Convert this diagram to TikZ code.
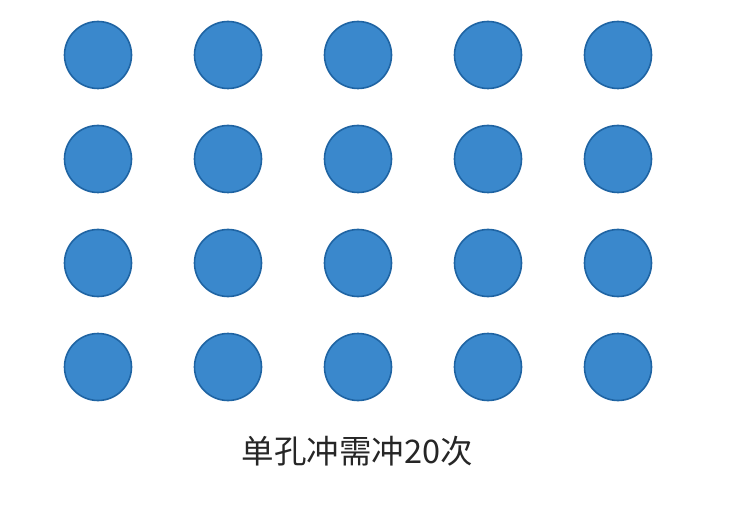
\documentclass[tikz,border=0pt]{standalone}
\usepackage{fontspec}
\newfontfamily\cjk{Noto Sans CJK SC}
\definecolor{dotfill}{HTML}{3A88CC}
\definecolor{dotedge}{HTML}{1F64A3}
\begin{document}
\begin{tikzpicture}[x=1pt,y=-1pt,
  dot/.style={circle,draw=dotedge,fill=dotfill,line width=1.6pt,minimum size=67pt,inner sep=0pt}]
\useasboundingbox (0,0) rectangle (746,521);
\foreach \c [count=\i] in {98,228,358,488,618}{
  \foreach \r [count=\j] in {55,159,263,367}{
    \node[dot] (d\i-\j) at (\c,\r) {};
  }
}
\node[font=\cjk\fontsize{32.5}{38}\selectfont,text=black!85] (cap) at (357.5,451) {单孔冲需冲20次};
\end{tikzpicture}
\end{document}
